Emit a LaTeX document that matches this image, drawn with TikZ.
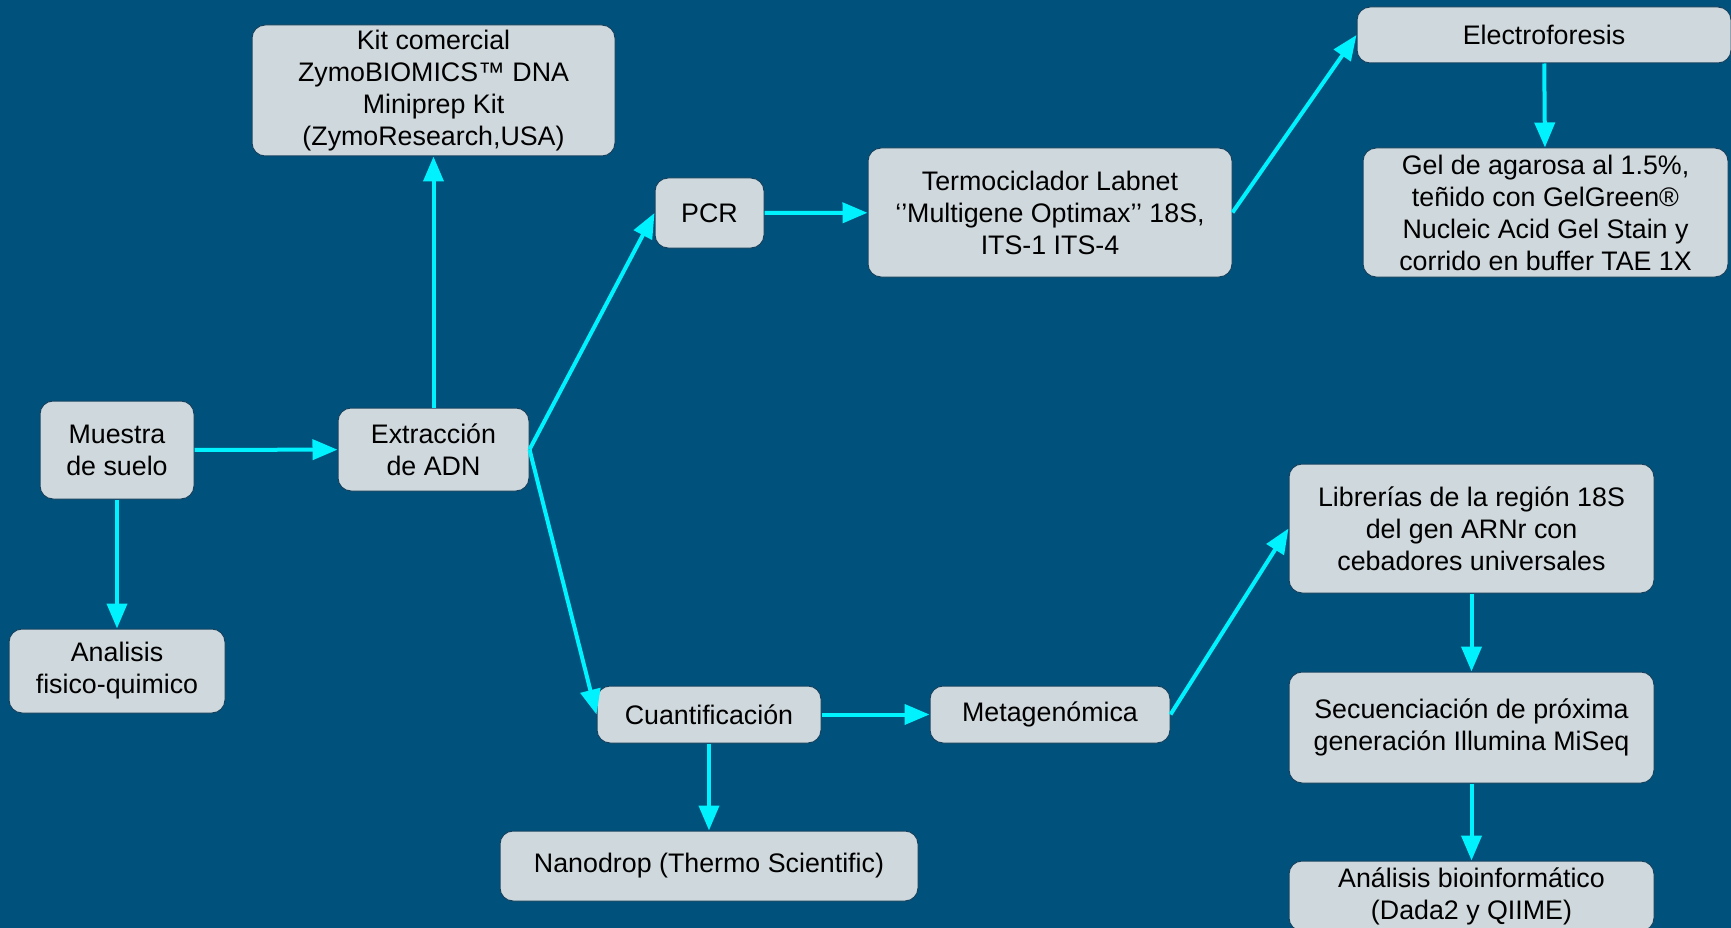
\documentclass[tikz,border=0pt]{standalone}
\usepackage{fontspec}
\setmainfont{Liberation Sans}
\usetikzlibrary{arrows.meta}
\definecolor{bgblue}{RGB}{0,82,124}
\definecolor{boxfill}{RGB}{207,216,220}
\definecolor{boxline}{RGB}{20,66,96}
\definecolor{flow}{RGB}{0,242,255}

\begin{document}
\begin{tikzpicture}[x=1pt, y=-1pt, >={Triangle[length=25pt,width=20pt]},
    every node/.style={font=\fontsize{26.8}{32}\selectfont},
    stepbox/.style={draw=boxline, line width=1pt, fill=boxfill, rounded corners=13pt,
      align=center, inner sep=0pt, text=black},
    flowline/.style={->, draw=flow, line width=4pt}]
    \fill[bgblue] (0,0) rectangle (1731,928);
    \clip (0,0) rectangle (1731,928);

    \node[stepbox, minimum width=363pt, minimum height=131pt] (kit) at (433.5,90.5)
      {Kit comercial\\ZymoBIOMICS™ DNA\\Miniprep Kit\\(ZymoResearch,USA)};
    \node[stepbox, minimum width=154pt, minimum height=98pt] (muestra) at (117,450)
      {Muestra\\de suelo};
    \node[stepbox, minimum width=191pt, minimum height=83pt] (extraccion) at (433.5,449.5)
      {Extracción\\de ADN};
    \node[stepbox, minimum width=216pt, minimum height=84pt] (analisis) at (117,671)
      {Analisis\\fisico-quimico};
    \node[stepbox, minimum width=109pt, minimum height=70pt] (pcr) at (709.5,213) {PCR};
    \node[stepbox, minimum width=364pt, minimum height=129pt] (termo) at (1050,212.5)
      {Termociclador Labnet\\‘’Multigene Optimax’’ 18S,\\ITS-1 ITS-4};
    \node[stepbox, minimum width=374pt, minimum height=56pt] (electro) at (1544,35)
      {Electroforesis};
    \node[stepbox, minimum width=365pt, minimum height=129pt] (gel) at (1545.5,212.5)
      {Gel de agarosa al 1.5\%,\\teñido con GelGreen®\\Nucleic Acid Gel Stain y\\corrido en buffer TAE 1X};
    \node[stepbox, minimum width=224pt, minimum height=57pt] (cuant) at (709,714.5)
      {Cuantificación};
    \node[stepbox, minimum width=418pt, minimum height=70pt] (nano) at (709,866)
      {Nanodrop (Thermo Scientific)};
    \node[stepbox, minimum width=240pt, minimum height=57pt] (meta) at (1050,714.5)
      {Metagenómica};
    \node[stepbox, minimum width=365pt, minimum height=129pt] (libr) at (1471.5,528.5)
      {Librerías de la región 18S\\del gen ARNr con\\cebadores universales};
    \node[stepbox, minimum width=365pt, minimum height=111pt] (secu) at (1471.5,727.5)
      {Secuenciación de próxima\\generación Illumina MiSeq};
    \node[stepbox, minimum width=365pt, minimum height=70pt] (bio) at (1471.5,896)
      {Análisis bioinformático\\(Dada2 y QIIME)};

    \draw[flowline] (muestra) -- (extraccion);
    \draw[flowline] (muestra) -- (analisis);
    \draw[flowline] (extraccion) -- (kit);
    \draw[flowline] (extraccion.east) -- (pcr.west);
    \draw[flowline] (extraccion.east) -- (cuant.west);
    \draw[flowline] (pcr) -- (termo);
    \draw[flowline] (termo.east) -- (electro.west);
    \draw[flowline] (electro) -- (gel);
    \draw[flowline] (cuant) -- (meta);
    \draw[flowline] (cuant) -- (nano);
    \draw[flowline] (meta.east) -- (libr.west);
    \draw[flowline] (libr) -- (secu);
    \draw[flowline] (secu) -- (bio);
\end{tikzpicture}
\end{document}
